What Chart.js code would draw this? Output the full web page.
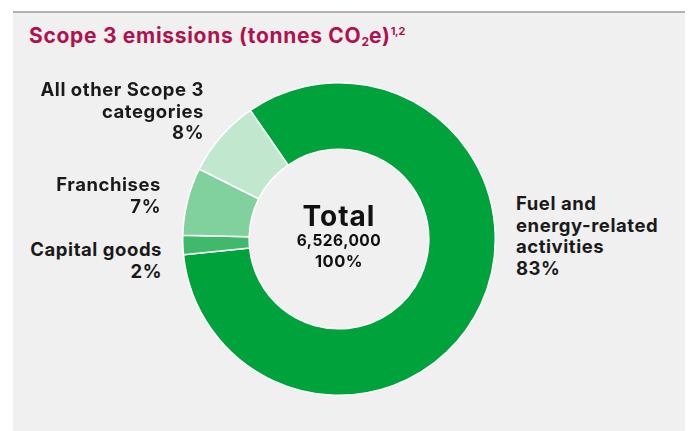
<!DOCTYPE html>
<html>
<head>
<meta charset="utf-8">
<script src="https://cdn.jsdelivr.net/npm/chart.js@4/dist/chart.umd.min.js"></script>
<style>
  html, body { margin: 0; padding: 0; background: #fff; }
  body { width: 688px; height: 431px; position: relative; overflow: hidden; font-family: "Inter", "Noto Sans", sans-serif; }
  .panel { position: absolute; left: 13px; top: 11px; width: 672px; height: 420px; background: #f0f0f0; border-top: 2px solid #b3b3b3; box-sizing: border-box; }
  .title { position: absolute; left: 29px; top: 23px; font-size: 21px; font-weight: 700; color: #b0124f; line-height: 26px; white-space: nowrap; letter-spacing: 0.7px; }
  .title sub { font-size: 12px; vertical-align: -3px; line-height: 0; letter-spacing: 0; }
  .title sup { font-size: 11px; vertical-align: 8px; line-height: 0; letter-spacing: -0.3px; }
  #wrap { position: absolute; left: 182px; top: 82px; width: 314px; height: 314px; }
  .lbl { position: absolute; font-size: 18.5px; font-weight: 700; color: #1a1a1a; line-height: 21.7px; white-space: nowrap; letter-spacing: 0.55px; }
  .lbl.r { text-align: right; }
  .ctr { position: absolute; left: 259px; width: 160px; text-align: center; font-weight: 700; color: #111; white-space: nowrap; }
</style>
</head>
<body>
<div class="panel"></div>
<div class="title">Scope 3 emissions (tonnes CO<sub>2</sub>e)<sup>1,2</sup></div>
<div id="wrap"><canvas id="chart"></canvas></div>
<div id="labels"></div>
<div class="ctr" style="top:200px;font-size:28px;line-height:32px;letter-spacing:1px;">Total</div>
<div class="ctr" id="total" style="top:232px;font-size:15.5px;line-height:18px;letter-spacing:0.5px;"></div>
<div class="ctr" style="top:252px;font-size:16.5px;line-height:19px;letter-spacing:0.5px;">100%</div>
<script>
// categories in clockwise order starting at the upper-left boundary
const categories = ["Fuel and\nenergy-related\nactivities", "Capital goods", "Franchises", "All other Scope 3\ncategories"];
const shares = [83, 2, 7, 8];
const totalTonnes = 6526000;
const colors = ["#00a23b", "#41b96c", "#81d19e", "#c1e8cf"];

// label placement (left/right edge + top), kept apart from the data
const labelPos = [
  { left: 516, top: 193, align: "l" },
  { right: 526, top: 239, align: "r" },
  { right: 527, top: 174, align: "r" },
  { right: 484, top: 79, align: "r" },
];

document.getElementById("total").textContent = totalTonnes.toLocaleString("en-US");

document.getElementById("labels").innerHTML = categories.map((c, i) => {
  const p = labelPos[i];
  const pos = p.align === "l" ? "left:" + p.left + "px;" : "right:" + p.right + "px;";
  return '<div class="lbl ' + p.align + '" style="' + pos + 'top:' + p.top + 'px;">' +
    c.split("\n").join("<br>") + "<br>" + shares[i] + "%</div>";
}).join("");

new Chart(document.getElementById("chart"), {
  type: "doughnut",
  data: {
    labels: categories.map(c => c.replace(/\n/g, " ")),
    datasets: [{
      data: shares,
      backgroundColor: colors,
      borderColor: "#ffffff",
      borderWidth: 1.5,
    }],
  },
  options: {
    responsive: true,
    maintainAspectRatio: false,
    animation: false,
    rotation: -34.6,
    cutout: "57.5%",
    layout: { padding: 0 },
    plugins: { legend: { display: false }, tooltip: { enabled: false } },
  },
});
</script>
</body>
</html>
